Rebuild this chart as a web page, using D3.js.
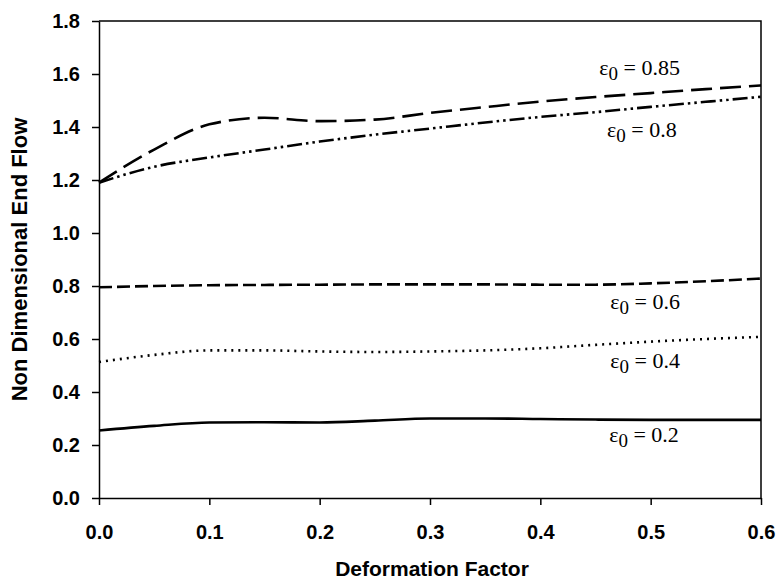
<!DOCTYPE html>
<html>
<head>
<meta charset="utf-8">
<script src="https://cdn.jsdelivr.net/npm/d3@7"></script>
<style>
  body { margin: 0; background: #fff; }
  text { fill: #000; }
</style>
</head>
<body>
<script>
// deformation factor samples
var xs = [0, 0.05, 0.1, 0.15, 0.2, 0.25, 0.3, 0.35, 0.4, 0.45, 0.5, 0.55, 0.6]

// non dimensional end flow, one array per eps0
var e085 = [1.19, 1.315, 1.41, 1.435, 1.422, 1.428, 1.453, 1.475, 1.496, 1.513, 1.528, 1.543, 1.557]
var e080 = [1.19, 1.25, 1.285, 1.315, 1.345, 1.371, 1.394, 1.417, 1.438, 1.456, 1.476, 1.495, 1.514]
var e060 = [0.795, 0.800, 0.803, 0.804, 0.805, 0.806, 0.806, 0.806, 0.805, 0.805, 0.81, 0.818, 0.828]
var e040 = [0.513, 0.540, 0.557, 0.557, 0.553, 0.551, 0.553, 0.557, 0.565, 0.578, 0.590, 0.600, 0.608]
var e020 = [0.255, 0.272, 0.285, 0.286, 0.285, 0.292, 0.300, 0.300, 0.298, 0.296, 0.295, 0.295, 0.295]

var xTicks = [0, 0.1, 0.2, 0.3, 0.4, 0.5, 0.6]
var yTicks = [0, 0.2, 0.4, 0.6, 0.8, 1.0, 1.2, 1.4, 1.6, 1.8]
var seriesNames = ["0.85", "0.8", "0.6", "0.4", "0.2"]

var width = 779, height = 583
var margin = {top: 21, right: 18, bottom: 85, left: 99}
var w = width - margin.left - margin.right,
    h = height - margin.top - margin.bottom

var svg = d3.select("body").append("svg")
  .attr("width", width)
  .attr("height", height)

var g = svg.append("g")
  .attr("transform", "translate(" + margin.left + " " + margin.top + ")")

var x = d3.scaleLinear().domain([0, 0.6]).range([0, w])
var y = d3.scaleLinear().domain([0, 1.8]).range([h, 0])

// frame top + right
g.append("path")
  .attr("d", "M0,0H" + w + "V" + h)
  .attr("fill", "none")
  .attr("stroke", "#000")
  .attr("stroke-width", 1.5)

var xAxis = g.append("g")
  .attr("transform", "translate(0 " + h + ")")
  .call(d3.axisBottom(x).tickValues(xTicks).tickFormat(d3.format(".1f")).tickSize(7).tickSizeOuter(0))

var yAxis = g.append("g")
  .call(d3.axisLeft(y).tickValues(yTicks).tickFormat(d3.format(".1f")).tickSize(7).tickSizeOuter(0))

;[xAxis, yAxis].forEach(function(a) {
  a.selectAll("path, line").attr("stroke", "#000").attr("stroke-width", 1.5)
  a.selectAll("text")
    .attr("font-family", "Liberation Sans, Arial, sans-serif")
    .attr("font-weight", "bold")
    .attr("font-size", 20)
    .attr("fill", "#000")
})
xAxis.selectAll("text").attr("dy", "1.55em")
yAxis.selectAll("text").attr("dx", "-0.45em")

// axis titles
svg.append("text")
  .attr("x", margin.left + w / 2 + 2)
  .attr("y", 576)
  .attr("text-anchor", "middle")
  .attr("font-family", "Liberation Sans, Arial, sans-serif")
  .attr("font-weight", "bold")
  .attr("font-size", 21)
  .text("Deformation Factor")

svg.append("text")
  .attr("transform", "translate(27 " + (margin.top + h / 2) + ") rotate(-90)")
  .attr("text-anchor", "middle")
  .attr("font-family", "Liberation Sans, Arial, sans-serif")
  .attr("font-weight", "bold")
  .attr("font-size", 22)
  .text("Non Dimensional End Flow")

var allSeries = [e085, e080, e060, e040, e020]
var dashes = ["21,8", "15,4,2.5,4,2.5,4", "13,5", "2,5", null]

var line = d3.line()
  .x(function(d, i) { return x(xs[i]) })
  .y(function(d) { return y(d) })
  .curve(d3.curveMonotoneX)

g.selectAll(".series")
  .data(allSeries)
  .enter().append("path")
  .attr("class", "series")
  .attr("d", line)
  .attr("fill", "none")
  .attr("stroke", "#000")
  .attr("stroke-width", 2.6)
  .attr("stroke-dasharray", function(d, i) { return dashes[i] })

// curve labels, placed in data units
var labelAt = [[0.49, 1.595], [0.492, 1.361], [0.495, 0.712], [0.495, 0.49], [0.494, 0.21]]

var labels = g.selectAll(".lab")
  .data(seriesNames)
  .enter().append("text")
  .attr("class", "lab")
  .attr("x", function(d, i) { return x(labelAt[i][0]) })
  .attr("y", function(d, i) { return y(labelAt[i][1]) })
  .attr("text-anchor", "middle")
  .attr("font-family", "Liberation Serif, Times New Roman, serif")
  .attr("font-size", 22)

labels.append("tspan").text("ε")
labels.append("tspan").attr("dy", 5).attr("font-size", 19).text("0")
labels.append("tspan").attr("dy", -5).text(function(d) { return " = " + d })
</script>
</body>
</html>
